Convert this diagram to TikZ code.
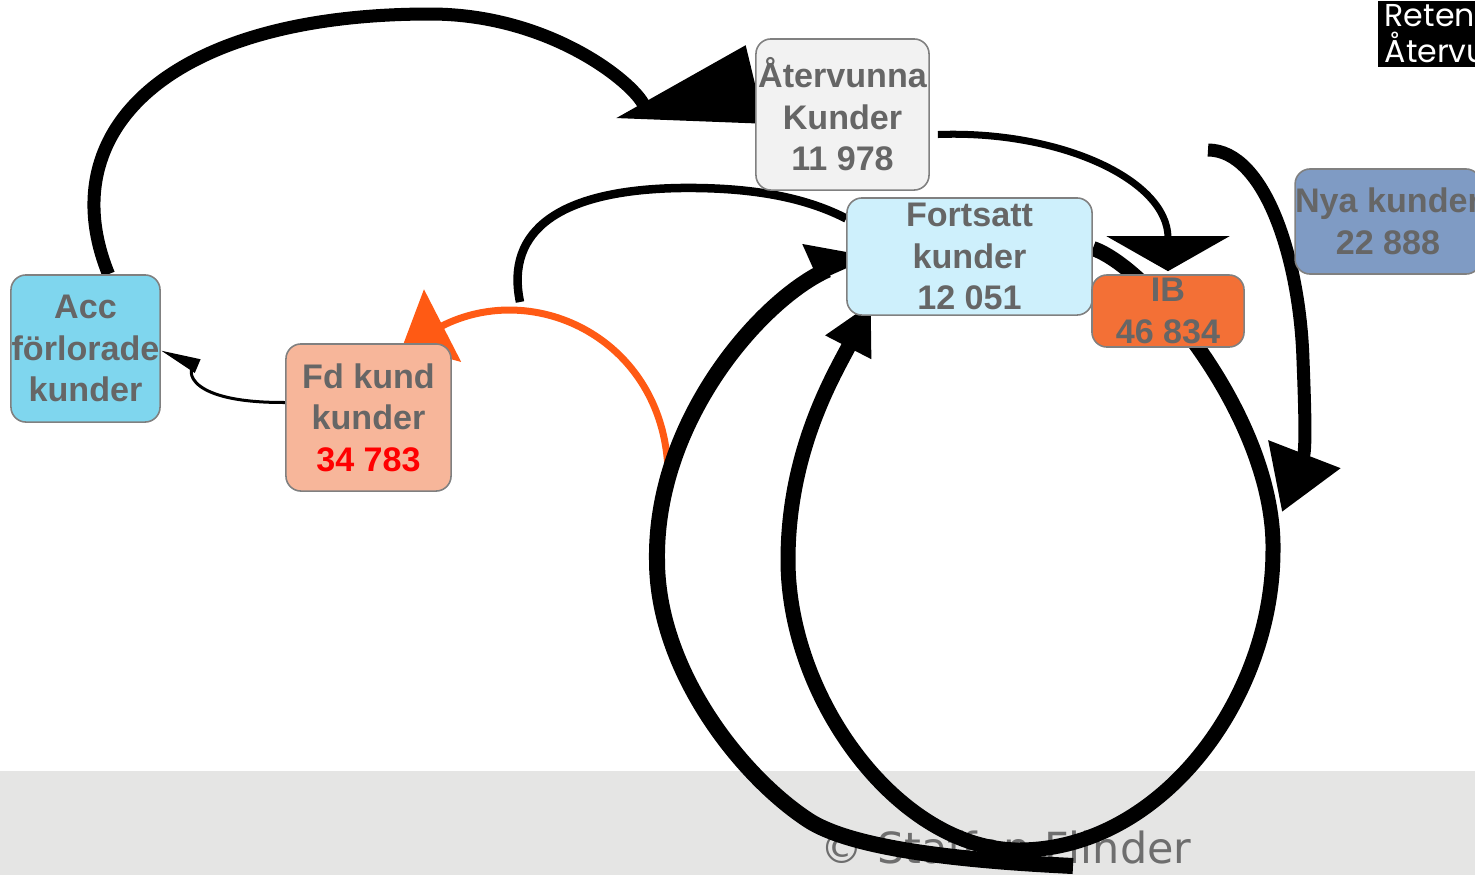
\documentclass[tikz,border=0pt]{standalone}
\usepackage{fontspec}
\setmainfont{Liberation Sans}
\newfontfamily\copyfont{DejaVu Sans}
\newfontfamily\headfont{Poppins}
\usetikzlibrary{arrows.meta}
\pgfdeclarelayer{back}
\pgfdeclarelayer{flow}
\pgfsetlayers{back,flow,main}

\definecolor{boxtext}{RGB}{102,102,102}
\definecolor{boxline}{RGB}{128,128,128}
\definecolor{atervfill}{RGB}{242,242,242}
\definecolor{fortfill}{RGB}{206,240,252}
\definecolor{ibfill}{RGB}{243,112,54}
\definecolor{nyafill}{RGB}{127,155,196}
\definecolor{accfill}{RGB}{127,214,238}
\definecolor{fdfill}{RGB}{247,182,154}
\definecolor{flowred}{RGB}{255,90,20}
\definecolor{bandgray}{RGB}{229,229,228}
\definecolor{copygray}{RGB}{110,110,110}

\tikzset{
	kundbox/.style={draw=boxline, line width=0.45pt, rounded corners=0.15cm, inner sep=0pt, align=center, text=boxtext, font=\fontsize{9.7}{11.8}\selectfont\bfseries},
	flowline/.style={line width=#1, line cap=butt},
}

\begin{document}
\begin{tikzpicture}[x=0.01cm, y=-0.01cm]
		%%%%% START %%%%%
		\useasboundingbox (0,0) rectangle (1475,875);
		
		\node[kundbox, fill=atervfill, minimum width=1.73cm, minimum height=1.51cm] (aterv) at (842.5,114.5) {Återvunna\\Kunder\\11 978};
		\node[kundbox, fill=fortfill, minimum width=2.45cm, minimum height=1.17cm] (fortsatt) at (969.5,256.5) {Fortsatt\\kunder\\12 051};
		\node[kundbox, fill=ibfill, minimum width=1.52cm, minimum height=0.72cm] (ib) at (1168,311) {IB\\46 834};
		\node[kundbox, fill=nyafill, minimum width=1.83cm, minimum height=1.05cm] (nya) at (1388,221.5) {Nya kunder\\22 888};
		\node[kundbox, fill=accfill, minimum width=1.49cm, minimum height=1.47cm] (acc) at (85.5,348.5) {Acc\\förlorade\\kunder};
		\node[kundbox, fill=fdfill, minimum width=1.65cm, minimum height=1.47cm] (fd) at (368.5,417.5) {Fd kund\\kunder\\\textcolor{red}{34 783}};
		
		\node[fill=black, text=white, anchor=north west, minimum width=0.98cm, minimum height=0.66cm, inner xsep=0.07cm, inner ysep=0pt, align=left, font=\headfont\fontsize{9}{10.2}\selectfont] (retention) at (1377,0) {Reten\\Återvu};
		
		\begin{pgfonlayer}{back}
		\fill[bandgray] (0,771) rectangle (1475,875);
		\node[text=copygray, font=\copyfont\fontsize{12.2}{14}\selectfont, anchor=base west, inner sep=0pt] (copyright) at (820,863) {© Staffan Flinder};
		\end{pgfonlayer}
		
		\coordinate (redstart) at (668,470);
		\coordinate (loopend) at (520,302);
		\coordinate (outertail) at (1073,866);
		\coordinate (nyastart) at (1208,150);
		\coordinate (nyaend) at (1282,512);
		
		\begin{pgfonlayer}{flow}
		% lost customers won back
		\draw[flowline=0.13cm, -{Triangle[reversed, length=1.44cm, width=0.77cm]}] ([xshift=0.23cm]acc.north) .. controls (50,130) and (170,14) .. (430,14) .. controls (570,14) and (660,107.5) .. ([yshift=0.3cm]aterv.west);
		
		\draw[flowline=0.03cm, -{Triangle[length=0.4cm, width=0.14cm]}] ([yshift=0.15cm]fd.west) .. controls (175,403) and (188,362) .. ([yshift=-0.02cm]acc.east);
		
		\draw[flowline=0.07cm, flowred, -{Triangle[length=0.45cm, width=0.8cm]}] (redstart) .. controls (663,340) and (535.5,278) .. ([xshift=0.34cm,yshift=-0.03cm]fd.north);
		
		\draw[flowline=0.085cm] ([yshift=0.38cm]fortsatt.west) .. controls (810,200) and (760,187) .. (680,188) .. controls (560,190) and (505,230) .. (loopend);
		
		% the two big loops
		\draw[flowline=0.16cm, -{Triangle[harpoon, length=0.5cm, width=0.64cm]}] (outertail) .. controls (993,862) and (858,853) .. (808,820) .. controls (741,776) and (657,670) .. (657,560) .. controls (655,420) and (762,299) .. ([xshift=0.245cm,yshift=0.06cm]fortsatt.west);
		\draw[flowline=0.15cm, -{Triangle[length=0.5cm, width=0.48cm]}] ([yshift=0.08cm]fortsatt.east) .. controls (1150,268) and (1275,420) .. (1273,550) .. controls (1273,700) and (1160,850) .. (1019,850) .. controls (900,850) and (788,700) .. (788,560) .. controls (788,450) and (835,373) .. ([xshift=0.25cm,yshift=0.13cm]fortsatt.south west);
		
		\draw[flowline=0.07cm, -{Triangle[length=0.35cm, width=1.22cm]}] ([xshift=0.08cm,yshift=-0.2cm]aterv.east) .. controls (1060,130) and (1168,180) .. ([yshift=0.03cm]ib.north);
		
		\draw[flowline=0.13cm, -{Triangle[length=0.62cm, width=0.74cm]}] (nyastart) .. controls (1265,150) and (1300,260) .. (1303,360) .. controls (1305,410) and (1306,450) .. (nyaend);
		\end{pgfonlayer}
		
		%%%%% END %%%%%
\end{tikzpicture}
\end{document}
